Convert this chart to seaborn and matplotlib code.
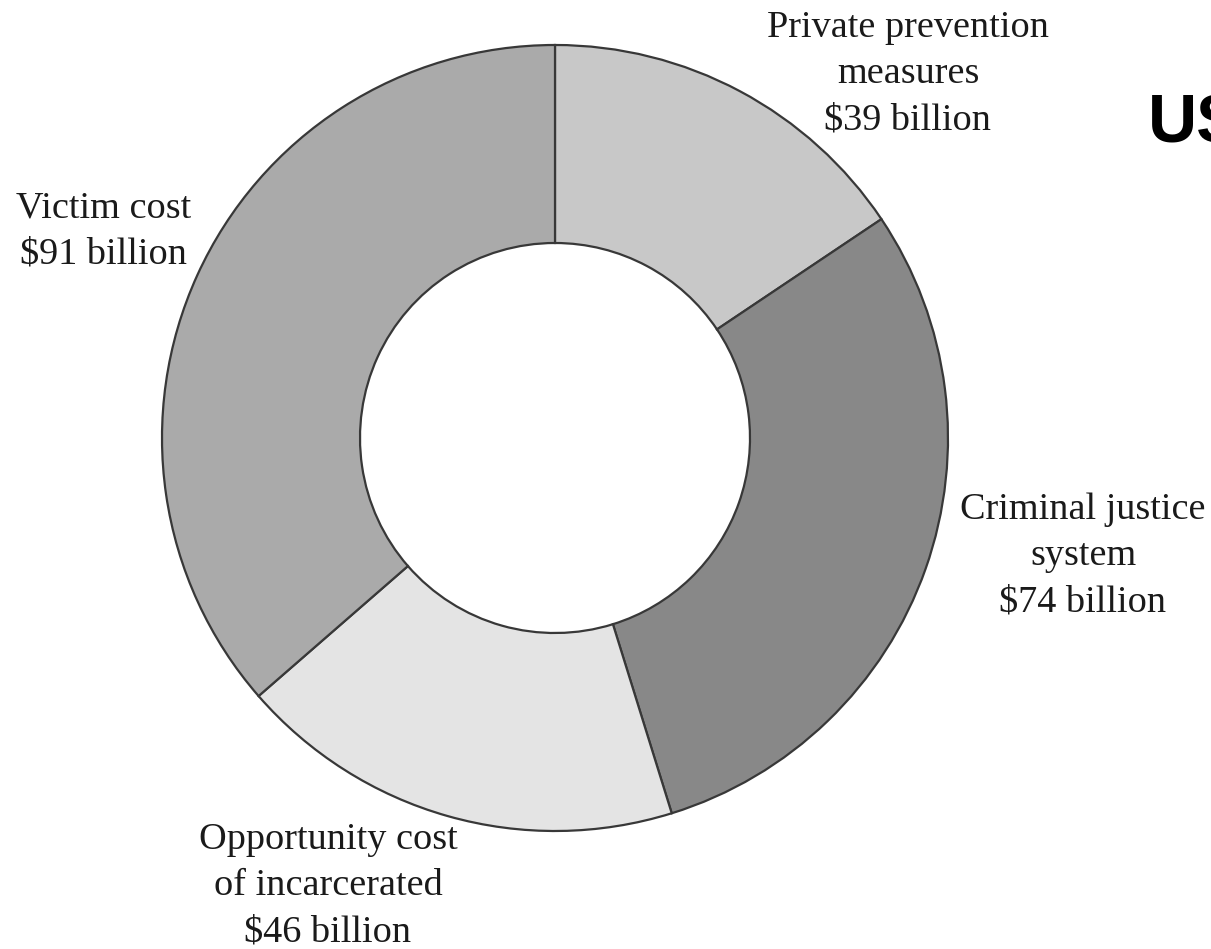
import matplotlib
matplotlib.use("Agg")
import matplotlib.pyplot as plt
import seaborn as sns

# Annual costs of crime, billions of dollars (clockwise from the top)
categories = [
    "Private prevention measures",
    "Criminal justice system",
    "Opportunity cost of incarcerated",
    "Victim cost",
]
values = [39, 74, 46, 91]
label_lines = [
    ["Private prevention", "measures", "$39 billion"],
    ["Criminal justice", "system", "$74 billion"],
    ["Opportunity cost", "of incarcerated", "$46 billion"],
    ["Victim cost", "$91 billion"],
]
shades = ["#c8c8c8", "#888888", "#e4e4e4", "#aaaaaa"]

sns.set_theme(style="white")
plt.rcParams["font.family"] = ["Liberation Serif", "DejaVu Serif"]

W, H = 1211, 949
fig = plt.figure(figsize=(W / 100, H / 100), dpi=100)
ax = fig.add_axes([0, 0, 1, 1])

center = (555, H - 438)
outer_r, inner_r = 393, 195
ax.pie(
    values,
    colors=shades,
    startangle=90,
    counterclock=False,
    radius=outer_r,
    center=center,
    wedgeprops=dict(width=outer_r - inner_r, edgecolor="#383838", linewidth=1.6),
)
ax.set_xlim(0, W)
ax.set_ylim(0, H)
ax.set_aspect("equal")
ax.axis("off")

# label anchors: centre x and first-line baseline (pixels from the top)
anchors = [(908, 37), (1083, 519), (328, 849), (104, 217)]
line_step = 46
for lines, (lx, ly) in zip(label_lines, anchors):
    for i, line in enumerate(lines):
        ax.text(lx, H - (ly + i * line_step), line, ha="center", va="baseline",
                fontsize=27.5, color="#1a1a1a")

ax.text(1148, H - 142, "US", ha="left", va="baseline", fontsize=49,
        fontweight="bold", family=["Liberation Sans", "DejaVu Sans"], color="black")

fig.savefig("out.png", dpi=100, facecolor="white")
